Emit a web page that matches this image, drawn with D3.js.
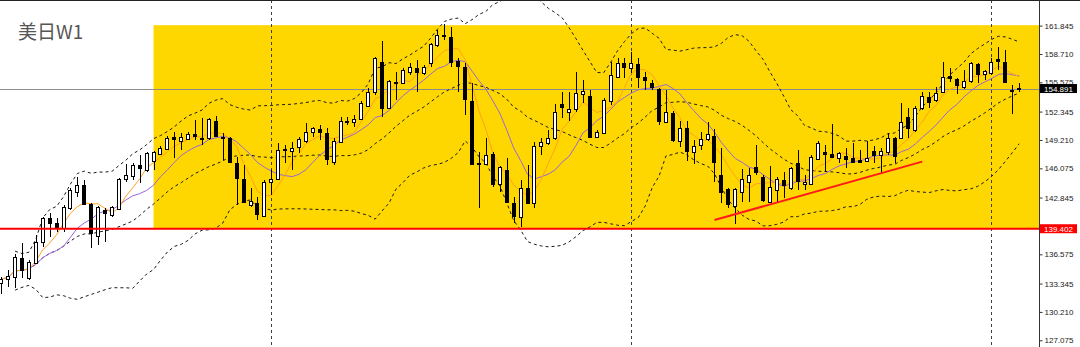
<!DOCTYPE html>
<html>
<head>
<meta charset="utf-8">
<script src="https://cdn.jsdelivr.net/npm/d3@7"></script>
<style>
  html, body { margin: 0; padding: 0; background: #fff; overflow: hidden; }
  svg { display: block; }
</style>
</head>
<body>
<svg id="chart" width="1080" height="347"></svg>
<script>
// weekly USDJPY candles
const opens = [
  133.40, 133.85, 134.07, 136.17, 133.96, 135.61, 137.93, 140.59, 140.03, 139.48,
  141.69, 143.46, 144.23, 142.13, 138.60, 141.47, 140.92, 141.58, 144.90, 145.23,
  146.44, 145.89, 146.88, 147.66, 148.21, 149.53, 149.09, 149.31, 149.87, 149.42,
  149.42, 151.30, 149.53, 149.42, 146.66, 144.90, 142.02, 142.24, 140.81, 144.56,
  144.90, 148.21, 148.01, 148.43, 149.09, 150.09, 150.42, 149.98, 146.77, 148.98,
  151.30, 151.19, 151.52, 152.96, 154.51, 157.82, 152.74, 155.61, 155.50, 156.72,
  157.16, 156.61, 157.71, 159.70, 160.80, 160.59, 157.93, 157.27, 153.51, 146.66,
  146.55, 147.66, 144.34, 145.89, 142.24, 140.70, 143.90, 142.24, 148.54, 148.87,
  149.42, 153.18, 152.30, 152.63, 154.29, 154.07, 149.53, 149.98, 153.51, 156.17,
  157.71, 157.16, 157.60, 156.17, 155.50, 154.84, 151.19, 152.19, 149.09, 150.53,
  147.88, 148.65, 149.31, 149.65, 145.34, 143.79, 141.91, 143.46, 144.56, 146.22,
  145.12, 142.35, 143.68, 144.78, 143.90, 146.66, 144.34, 144.34, 147.10, 147.88,
  147.66, 147.22, 147.44, 147.22, 146.99, 146.88, 147.99, 147.55, 147.88, 149.42,
  149.42, 151.75, 150.31, 152.74, 153.96, 153.62, 154.51, 156.28, 155.94, 155.06,
  155.72, 157.60, 156.50, 156.61, 158.15, 157.82, 154.73, 154.95
];
const highs = [
  134.07, 134.84, 136.61, 137.82, 135.95, 138.71, 140.70, 141.14, 140.59, 142.02,
  143.90, 145.12, 144.78, 142.24, 141.91, 141.69, 141.91, 145.01, 146.55, 146.66,
  147.55, 147.88, 147.99, 148.54, 149.65, 150.09, 149.98, 150.09, 151.41, 151.64,
  151.64, 151.86, 149.98, 149.53, 147.32, 146.44, 143.90, 142.91, 144.78, 145.89,
  148.87, 148.65, 148.98, 149.53, 151.08, 150.64, 150.86, 150.53, 149.42, 151.75,
  151.75, 151.97, 153.51, 154.95, 158.37, 160.14, 155.83, 156.72, 157.16, 157.71,
  158.04, 157.49, 159.92, 161.36, 162.01, 161.69, 158.26, 157.71, 155.50, 147.88,
  149.42, 147.88, 146.33, 147.22, 142.91, 144.78, 146.44, 148.98, 149.42, 150.31,
  153.18, 154.51, 154.51, 156.72, 155.83, 154.73, 150.31, 153.84, 157.82, 158.26,
  158.26, 158.93, 158.26, 156.72, 155.83, 154.95, 154.73, 152.41, 151.30, 151.30,
  149.20, 150.09, 151.19, 150.42, 148.32, 143.90, 143.90, 146.00, 146.11, 148.65,
  145.34, 146.33, 145.12, 145.67, 146.22, 148.10, 145.34, 147.55, 149.09, 148.65,
  150.97, 147.88, 148.32, 148.87, 148.10, 149.09, 148.54, 148.32, 149.98, 149.53,
  153.29, 152.74, 152.96, 154.51, 154.51, 155.06, 157.82, 157.16, 156.06, 156.94,
  157.82, 157.71, 156.94, 158.26, 159.48, 159.15, 155.28, 155.50
];
const lows = [
  132.19, 132.96, 132.85, 133.96, 133.74, 135.50, 137.38, 138.49, 139.04, 139.04,
  141.47, 142.91, 142.02, 137.27, 137.60, 137.93, 140.70, 141.47, 144.56, 144.78,
  144.45, 145.67, 145.89, 147.55, 148.10, 147.22, 148.10, 149.20, 149.20, 148.65,
  149.20, 149.53, 146.99, 146.66, 142.02, 142.24, 141.80, 140.36, 140.70, 143.13,
  144.78, 146.66, 145.89, 147.77, 148.87, 149.53, 149.20, 146.44, 146.44, 148.87,
  150.86, 150.64, 151.41, 152.85, 154.18, 151.75, 152.63, 153.62, 155.39, 156.39,
  154.51, 156.39, 157.27, 159.48, 160.25, 157.27, 154.51, 151.97, 146.44, 141.69,
  146.44, 144.01, 143.46, 142.24, 140.03, 139.59, 142.13, 141.69, 147.55, 148.65,
  149.20, 151.63, 151.30, 152.30, 153.29, 149.42, 149.42, 149.87, 153.07, 156.06,
  156.06, 156.61, 154.95, 154.73, 154.73, 150.86, 151.08, 148.98, 148.43, 146.88,
  146.55, 148.10, 149.09, 144.56, 142.24, 141.69, 139.92, 142.35, 142.35, 145.34,
  142.35, 142.24, 142.24, 142.80, 143.68, 143.68, 143.68, 144.23, 146.99, 145.67,
  147.22, 146.66, 146.11, 146.66, 146.66, 146.77, 146.66, 145.56, 147.55, 146.66,
  149.31, 149.42, 150.09, 152.52, 152.74, 153.40, 154.40, 155.61, 154.29, 154.84,
  155.50, 155.50, 155.83, 156.39, 156.94, 155.50, 152.08, 154.51
];
const closes = [
  133.85, 134.18, 136.28, 134.84, 135.72, 137.93, 140.59, 140.03, 139.48, 141.80,
  143.68, 144.23, 142.13, 138.93, 141.80, 141.14, 141.80, 144.90, 145.34, 146.44,
  146.11, 147.77, 147.88, 148.32, 149.42, 149.31, 149.53, 149.87, 149.65, 149.31,
  151.52, 149.65, 149.42, 146.77, 145.01, 142.35, 142.46, 141.03, 144.56, 144.90,
  148.10, 148.10, 148.32, 149.31, 150.09, 150.53, 150.09, 147.10, 149.09, 151.30,
  151.19, 151.52, 153.29, 154.51, 158.26, 152.74, 155.72, 155.50, 156.94, 157.27,
  156.72, 157.27, 159.81, 160.80, 160.70, 157.82, 157.38, 153.73, 146.55, 146.55,
  147.55, 144.34, 146.22, 142.35, 140.81, 143.90, 142.24, 148.54, 148.98, 149.42,
  152.30, 152.85, 152.63, 154.40, 154.62, 149.53, 150.09, 153.62, 156.39, 157.71,
  157.27, 157.71, 156.17, 155.83, 155.06, 151.30, 152.30, 149.20, 150.53, 147.99,
  148.54, 149.31, 149.87, 146.77, 143.46, 142.13, 143.79, 144.90, 145.34, 145.67,
  142.57, 144.01, 144.90, 144.23, 146.11, 144.67, 144.56, 147.33, 148.87, 147.66,
  147.33, 147.77, 147.10, 146.77, 146.77, 147.22, 147.55, 147.99, 149.42, 147.44,
  151.19, 150.53, 152.74, 154.07, 153.40, 154.40, 156.17, 156.06, 155.28, 155.72,
  157.71, 156.50, 156.83, 157.82, 157.93, 155.61, 154.62, 154.891
];

// price axis labels
const yTicks = [161.845, 158.710, 155.575, 152.345, 149.210, 146.075, 142.845, 136.575, 133.345, 130.210, 127.075];

// period separators (bar index), levels and objects
const separators = [39, 91, 143];
const lastPrice = 154.891;
const levelPrice = 139.402;
const boxStart = 22;
const boxTop = 161.89;
const boxBottom = 139.402;
const trendIdx = [103, 133];
const trendPrice = [140.36, 146.82];
const title = '美日W1';

const width = 1080;
const height = 347;
const plotRight = 1039;

const svg = d3.select('#chart');

const x = d3.scaleLinear()
  .domain([0, closes.length - 1])
  .range([1.2, 1019.2]);

const y = d3.scaleLinear()
  .domain([127.075, 161.845])
  .range([340.3, 25.6]);

const px = i => Math.round(x(i));

// moving averages (windows shorter at the left edge)
function sma(values, n) {
  return values.map((_, i) => d3.mean(values.slice(Math.max(0, i - n + 1), i + 1)));
}
function bands(values, n, k) {
  return values.map((_, i) => {
    const w = values.slice(Math.max(0, i - n + 1), i + 1);
    const m = d3.mean(w);
    const sd = Math.sqrt(d3.mean(w, v => (v - m) * (v - m)));
    return { i, mid: m, up: m + k * sd, lo: m - k * sd };
  });
}

const ma5 = sma(closes, 5);
const ma10 = sma(closes, 10);
const bb = bands(closes, 20, 2).filter(d => d.i >= 2);

svg.append('defs').append('clipPath')
  .attr('id', 'plot-clip')
  .append('rect')
  .attr('x', 0).attr('y', 0)
  .attr('width', plotRight).attr('height', height);

const plot = svg.append('g').attr('clip-path', 'url(#plot-clip)');

// yellow box
plot.append('rect')
  .attr('x', x(boxStart))
  .attr('y', y(boxTop))
  .attr('width', plotRight - x(boxStart))
  .attr('height', y(boxBottom) - y(boxTop))
  .attr('fill', '#ffd700');

// period separators
plot.selectAll('line.sep')
  .data(separators)
  .enter()
  .append('line')
  .attr('class', 'sep')
  .attr('x1', d => px(d) + 0.5)
  .attr('x2', d => px(d) + 0.5)
  .attr('y1', 0)
  .attr('y2', height)
  .attr('stroke', '#3a3f4a')
  .attr('stroke-width', 1)
  .attr('stroke-dasharray', '3,3');

// last price line
plot.append('line')
  .attr('x1', 0).attr('x2', plotRight)
  .attr('y1', Math.round(y(lastPrice)) + 0.5)
  .attr('y2', Math.round(y(lastPrice)) + 0.5)
  .attr('stroke', '#8c8c8c')
  .attr('stroke-width', 1);

// bollinger bands
['up', 'mid', 'lo'].forEach(key => {
  const line = d3.line()
    .x(d => x(d.i))
    .y(d => y(d[key]));
  plot.append('path')
    .datum(bb)
    .attr('d', line)
    .attr('fill', 'none')
    .attr('stroke', '#1a1a1a')
    .attr('stroke-width', 1)
    .attr('stroke-dasharray', '3,3');
});

// moving averages
const maLine = d3.line()
  .x((d, i) => x(i))
  .y(d => y(d));

plot.append('path')
  .datum(ma10)
  .attr('d', maLine)
  .attr('fill', 'none')
  .attr('stroke', '#9966dd')
  .attr('stroke-width', 1);

plot.append('path')
  .datum(ma5)
  .attr('d', maLine)
  .attr('fill', 'none')
  .attr('stroke', '#ffa020')
  .attr('stroke-width', 1);

// candles
const candles = plot.selectAll('g.candle')
  .data(closes.map((c, i) => ({ i, o: opens[i], h: highs[i], l: lows[i], c })))
  .enter()
  .append('g')
  .attr('class', 'candle')
  .attr('shape-rendering', 'crispEdges');

candles.append('line')
  .attr('x1', d => px(d.i) + 0.5)
  .attr('x2', d => px(d.i) + 0.5)
  .attr('y1', d => Math.round(y(d.h)))
  .attr('y2', d => Math.round(y(d.l)))
  .attr('stroke', '#000')
  .attr('stroke-width', 1);

candles.append('rect')
  .attr('x', d => px(d.i) - 1.5)
  .attr('y', d => Math.round(y(Math.max(d.o, d.c))) + 0.5)
  .attr('width', 3)
  .attr('height', d => Math.max(1, Math.round(y(Math.min(d.o, d.c))) - Math.round(y(Math.max(d.o, d.c)))))
  .attr('fill', d => d.c >= d.o ? '#fff' : '#000')
  .attr('stroke', '#000')
  .attr('stroke-width', 1);

// trend line
plot.append('line')
  .attr('x1', x(trendIdx[0])).attr('y1', y(trendPrice[0]))
  .attr('x2', x(trendIdx[1])).attr('y2', y(trendPrice[1]))
  .attr('stroke', '#ff1a1a')
  .attr('stroke-width', 2);

// horizontal level
plot.append('line')
  .attr('x1', 0).attr('x2', plotRight)
  .attr('y1', y(levelPrice)).attr('y2', y(levelPrice))
  .attr('stroke', '#ff0000')
  .attr('stroke-width', 2);

// top border
svg.append('line')
  .attr('x1', 0).attr('x2', width)
  .attr('y1', 0.5).attr('y2', 0.5)
  .attr('stroke', '#222')
  .attr('stroke-width', 1);

// price axis
const yAxis = d3.axisRight(y)
  .tickValues(yTicks)
  .tickSize(3)
  .tickPadding(2)
  .tickFormat(d3.format('.3f'));

const gAxis = svg.append('g')
  .attr('transform', `translate(${plotRight + 0.5}, 0)`)
  .call(yAxis);

gAxis.select('.domain').remove();
gAxis.selectAll('.tick line').attr('stroke', '#333');
gAxis.selectAll('.tick text')
  .attr('fill', '#1a1a1a')
  .style('font-family', '"Liberation Sans", Arial, sans-serif')
  .style('font-size', '8px');

svg.append('line')
  .attr('x1', plotRight + 0.5).attr('x2', plotRight + 0.5)
  .attr('y1', 0).attr('y2', height)
  .attr('stroke', '#333')
  .attr('stroke-width', 1);

// price tags
function priceTag(price, bg) {
  const g = svg.append('g')
    .attr('transform', `translate(${plotRight + 1}, ${y(price)})`);
  g.append('rect')
    .attr('x', 0).attr('y', -4.5)
    .attr('width', 37).attr('height', 9)
    .attr('fill', bg);
  g.append('text')
    .attr('x', 4).attr('y', 3)
    .attr('fill', '#fff')
    .style('font-family', '"Liberation Sans", Arial, sans-serif')
    .style('font-size', '8px')
    .text(d3.format('.3f')(price));
}
priceTag(lastPrice, '#000');
priceTag(levelPrice, '#ff0000');

// title
svg.append('text')
  .attr('x', 18)
  .attr('y', 39)
  .attr('fill', '#555')
  .style('font-family', '"Noto Sans CJK SC", "Noto Sans", sans-serif')
  .style('font-size', '19px')
  .text(title);
</script>
</body>
</html>
